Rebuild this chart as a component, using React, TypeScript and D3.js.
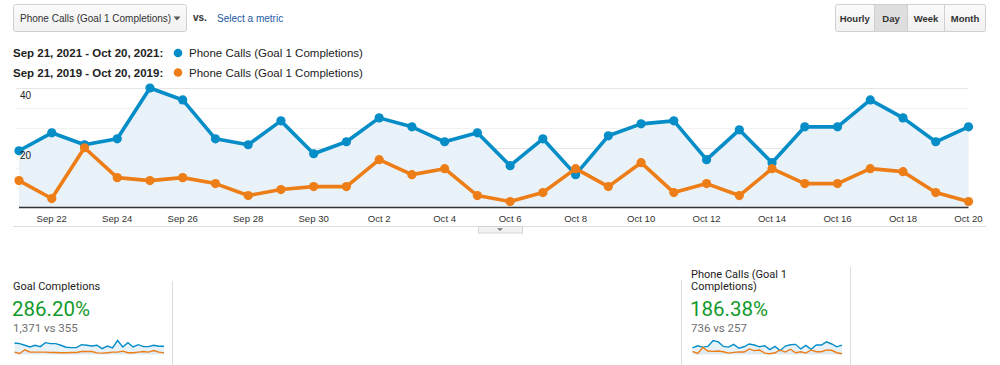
import React from 'react'
import * as d3 from 'd3'

const dates = [
  '2021-09-21', '2021-09-22', '2021-09-23', '2021-09-24', '2021-09-25', '2021-09-26', '2021-09-27', '2021-09-28', '2021-09-29', '2021-09-30',
  '2021-10-01', '2021-10-02', '2021-10-03', '2021-10-04', '2021-10-05', '2021-10-06', '2021-10-07', '2021-10-08', '2021-10-09', '2021-10-10',
  '2021-10-11', '2021-10-12', '2021-10-13', '2021-10-14', '2021-10-15', '2021-10-16', '2021-10-17', '2021-10-18', '2021-10-19', '2021-10-20',
]
const tickDates = dates.filter((_, i) => i % 2 === 1)

// Phone Calls (Goal 1 Completions)
const calls2021 = [19, 25, 21, 23, 40, 36, 23, 21, 29, 18, 22, 30, 27, 22, 25, 14, 23, 11, 24, 28, 29, 16, 26, 15, 27, 27, 36, 30, 22, 27]
const calls2019 = [9, 3, 20, 10, 9, 10, 8, 4, 6, 7, 7, 16, 11, 13, 4, 2, 5, 13, 7, 15, 5, 8, 4, 13, 8, 8, 13, 12, 5, 2]

// Goal Completions (sparkline only)
const goals2021 = [58, 55, 47, 38, 47, 40, 60, 55, 55, 47, 37, 35, 35, 50, 47, 43, 47, 30, 43, 34, 71, 38, 60, 38, 50, 40, 40, 47, 42, 42]
const goals2019 = [12, 5, 24, 13, 12, 12, 12, 10, 10, 9, 9, 10, 10, 15, 15, 15, 8, 7, 9, 12, 12, 17, 9, 9, 12, 15, 12, 20, 12, 8]

const yLabels = [40, 20]
const periods = ['Sep 21, 2021 - Oct 20, 2021:', 'Sep 21, 2019 - Oct 20, 2019:']
const metricName = 'Phone Calls (Goal 1 Completions)'
const buttons = ['Hourly', 'Day', 'Week', 'Month']

const BLUE = '#058dc7'
const ORANGE = '#ed7e17'
const GREEN = '#139a2b'
const UI = 'Arial, "Liberation Sans", sans-serif'
const RB = 'Roboto, Arial, sans-serif'

const parse = d3.utcParse('%Y-%m-%d')
const fmt = d3.utcFormat('%b %-d')

function Sparkline({ x0, x1, a, b }: { x0: number; x1: number; a: number[]; b: number[] }) {
  const x = d3.scalePoint<string>().domain(dates).range([x0, x1])
  const y = d3.scaleLinear().domain([0, d3.max([...a, ...b]) as number]).range([354.5, 340.5])
  const line = d3.line<number>().x((_, i) => x(dates[i]) as number).y((d) => y(d))
  const area = d3.area<number>().x((_, i) => x(dates[i]) as number).y0(y(0)).y1((d) => y(d))
  return (
    <g>
      <path d={area(a) || ''} fill="#e6f1f8" />
      <path d={area(b) || ''} fill="rgba(120,120,120,0.06)" />
      <path d={line(a) || ''} fill="none" stroke={BLUE} strokeWidth={1.4} />
      <path d={line(b) || ''} fill="none" stroke={ORANGE} strokeWidth={1.4} />
    </g>
  )
}

export default function App() {
  const width = 1000
  const height = 365
  const x = d3.scalePoint<string>().domain(dates).range([19, 968.5])
  const y = d3.scaleLinear().domain([0, 40]).range([207.5, 88])
  const gridVals = d3.range(0, 7).map((i) => (i * 40) / 6)

  const line = d3.line<number>().x((_, i) => x(dates[i]) as number).y((d) => y(d))
  const area = d3.area<number>().x((_, i) => x(dates[i]) as number).y0(y(0)).y1((d) => y(d))

  const btnX = [835, 874.5, 907.5, 944.5, 985.5]

  return (
    <svg
      width={width}
      height={height}
      style={{ position: 'absolute', left: 0, top: 0, display: 'block', background: '#fff' }}
    >
      <defs>
        <linearGradient id="btn" x1="0" y1="0" x2="0" y2="1">
          <stop offset="0" stopColor="#fbfbfb" />
          <stop offset="1" stopColor="#f1f1f1" />
        </linearGradient>
      </defs>

      {/* metric selector */}
      <rect x={13.5} y={4.5} width={173} height={27} rx={2} fill="url(#btn)" stroke="#cfcfcf" />
      <text x={20} y={21.5} fontFamily={UI} fontSize={10} fill="#333">{metricName}</text>
      <path d="M173.5,16.5 L180.5,16.5 L177,20.5 Z" fill="#555" />
      <text x={193} y={21} fontFamily={UI} fontSize={10} fontWeight="bold" fill="#333">vs.</text>
      <text x={217} y={21.5} fontFamily={UI} fontSize={10} fill="#1d5ba4">Select a metric</text>

      {/* Hourly / Day / Week / Month */}
      <rect x={835.5} y={4.5} width={150} height={27} rx={2} fill="url(#btn)" stroke="#d0d0d0" />
      <rect x={874.5} y={5} width={33} height={26} fill="#dedede" />
      {btnX.slice(1, 4).map((bx) => (
        <line key={bx} x1={bx} x2={bx} y1={5} y2={31} stroke="#d0d0d0" />
      ))}
      {buttons.map((b, i) => (
        <text
          key={b}
          x={(btnX[i] + btnX[i + 1]) / 2}
          y={21.5}
          textAnchor="middle"
          fontFamily={UI}
          fontSize={9.5}
          fontWeight="bold"
          fill="#333"
        >
          {b}
        </text>
      ))}

      {/* legend */}
      {periods.map((p, i) => (
        <g key={p} transform={`translate(0,${53 + i * 19.5})`}>
          <text x={13} y={4} fontFamily={UI} fontSize={11.5} fontWeight="bold" fill="#222">{p}</text>
          <circle cx={178} cy={0} r={4.3} fill={i === 0 ? BLUE : ORANGE} />
          <text x={189} y={4} fontFamily={UI} fontSize={11.5} fill="#222">{metricName}</text>
        </g>
      ))}

      {/* grid */}
      {gridVals.slice(1).map((v, i) => (
        <line
          key={i}
          x1={16}
          x2={968.5}
          y1={Math.round(y(v)) + 0.5}
          y2={Math.round(y(v)) + 0.5}
          stroke={i % 3 === 2 ? '#e6e6e6' : '#f1f1f1'}
        />
      ))}

      {/* series */}
      <path d={area(calls2021) || ''} fill="#e9f2f9" />
      <line x1={19} x2={968.5} y1={207.5} y2={207.5} stroke="#333" strokeWidth={1.5} />
      <path d={line(calls2021) || ''} fill="none" stroke={BLUE} strokeWidth={3.6} strokeLinejoin="round" />
      {calls2021.map((d, i) => (
        <circle key={'b' + i} cx={x(dates[i])} cy={y(d)} r={4.6} fill={BLUE} />
      ))}
      <path d={line(calls2019) || ''} fill="none" stroke={ORANGE} strokeWidth={3.6} strokeLinejoin="round" />
      {calls2019.map((d, i) => (
        <circle key={'o' + i} cx={x(dates[i])} cy={y(d)} r={4.6} fill={ORANGE} />
      ))}

      {/* y labels */}
      {yLabels.map((v) => (
        <text key={v} x={20} y={y(v) + 11} fontFamily={UI} fontSize={10} fill="#222">{v}</text>
      ))}

      {/* x axis labels */}
      {tickDates.map((d) => (
        <text key={d} x={x(d)} y={221.5} textAnchor="middle" fontFamily={UI} fontSize={9.6} fill="#333">
          {fmt(parse(d) as Date)}
        </text>
      ))}

      {/* collapse bar */}
      <line x1={13} x2={986} y1={226.5} y2={226.5} stroke="#dcdcdc" />
      <rect x={478.5} y={226.5} width={44} height={6.5} fill="#f2f2f2" stroke="#d4d4d4" />
      <path d="M497,228.3 L503,228.3 L500,231 Z" fill="#777" />

      {/* scorecards */}
      <text x={13} y={290} fontFamily={RB} fontSize={11} fill="#222">Goal Completions</text>
      <text x={12} y={316} fontFamily={RB} fontSize={20.5} fill={GREEN}>286.20%</text>
      <text x={13} y={332} fontFamily={RB} fontSize={11.5} fill="#6f6f6f">1,371 vs 355</text>
      <Sparkline x0={14.5} x1={164} a={goals2021} b={goals2019} />
      <line x1={172.5} x2={172.5} y1={281} y2={365} stroke="#dcdcdc" />

      <line x1={681.5} x2={681.5} y1={280} y2={365} stroke="#dcdcdc" />
      <line x1={850.5} x2={850.5} y1={267} y2={365} stroke="#dcdcdc" />
      <text x={691} y={277.5} fontFamily={RB} fontSize={11} fill="#222">Phone Calls (Goal 1</text>
      <text x={691} y={290} fontFamily={RB} fontSize={11} fill="#222">Completions)</text>
      <text x={690} y={316} fontFamily={RB} fontSize={20.5} fill={GREEN}>186.38%</text>
      <text x={691} y={332} fontFamily={RB} fontSize={11.5} fill="#6f6f6f">736 vs 257</text>
      <Sparkline x0={692.5} x1={842} a={calls2021} b={calls2019} />
    </svg>
  )
}
